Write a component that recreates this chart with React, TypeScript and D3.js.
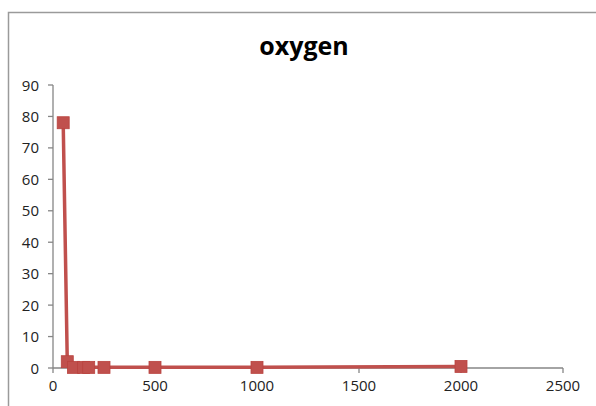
import React from "react";
import * as d3 from "d3";

const title = "oxygen";
const xValues = [50, 70, 100, 150, 175, 250, 500, 1000, 2000];
const yValues = [78, 2, 0.2, 0.2, 0.2, 0.2, 0.2, 0.2, 0.5];
const xTicks = [0, 500, 1000, 1500, 2000, 2500];
const yTicks = [0, 10, 20, 30, 40, 50, 60, 70, 80, 90];

const W = 596;
const H = 406;
const left = 53;
const right = 563;
const top = 85;
const bottom = 368;
const font = "'Open Sans', 'Noto Sans', sans-serif";
const axisColor = "#868686";
const red = "#C0504D";

export default function App() {
  const x = d3.scaleLinear().domain([0, 2500]).range([left, right]);
  const y = d3.scaleLinear().domain([0, 90]).range([bottom, top]);
  const pts = xValues.map((v, i) => [v, yValues[i]] as [number, number]);
  const line = d3
    .line<[number, number]>()
    .x((d) => x(d[0]))
    .y((d) => y(d[1]));
  const m = 12;

  return (
    <svg
      width={W}
      height={H}
      style={{ position: "absolute", left: 0, top: 0, display: "block" }}
    >
      <rect x={0} y={0} width={W} height={H} fill="#fff" />
      <rect
        x={8.5}
        y={12.5}
        width={W + 20}
        height={H + 20}
        fill="none"
        stroke="#9a9a9a"
        strokeWidth={1.5}
      />
      <text
        x={304}
        y={55}
        textAnchor="middle"
        fontFamily={font}
        fontWeight="bold"
        fontSize={25}
        fill="#000"
      >
        {title}
      </text>

      {/* y axis */}
      <line x1={left} x2={left} y1={top} y2={bottom} stroke={axisColor} strokeWidth={1.3} />
      {yTicks.map((t) => (
        <g key={"y" + t}>
          <line x1={left - 5} x2={left} y1={y(t)} y2={y(t)} stroke={axisColor} strokeWidth={1.3} />
          <text
            x={39}
            y={y(t) + 5.5}
            textAnchor="end"
            fontFamily={font}
            fontSize={15}
            fill="#222"
          >
            {t}
          </text>
        </g>
      ))}

      {/* x axis */}
      <line x1={left} x2={right} y1={bottom} y2={bottom} stroke={axisColor} strokeWidth={1.3} />
      {xTicks.map((t) => (
        <g key={"x" + t}>
          <line x1={x(t)} x2={x(t)} y1={bottom} y2={bottom + 5} stroke={axisColor} strokeWidth={1.3} />
          <text
            x={x(t)}
            y={bottom + 23}
            textAnchor="middle"
            fontFamily={font}
            fontSize={15}
            fill="#222"
          >
            {t}
          </text>
        </g>
      ))}

      <path d={line(pts) ?? ""} fill="none" stroke={red} strokeWidth={3.5} strokeLinejoin="round" />
      {pts.map((p, i) => (
        <rect
          key={i}
          x={x(p[0]) - m / 2}
          y={y(p[1]) - m / 2}
          width={m}
          height={m}
          fill={red}
          stroke="#b9433f"
          strokeWidth={0.8}
        />
      ))}
    </svg>
  );
}
